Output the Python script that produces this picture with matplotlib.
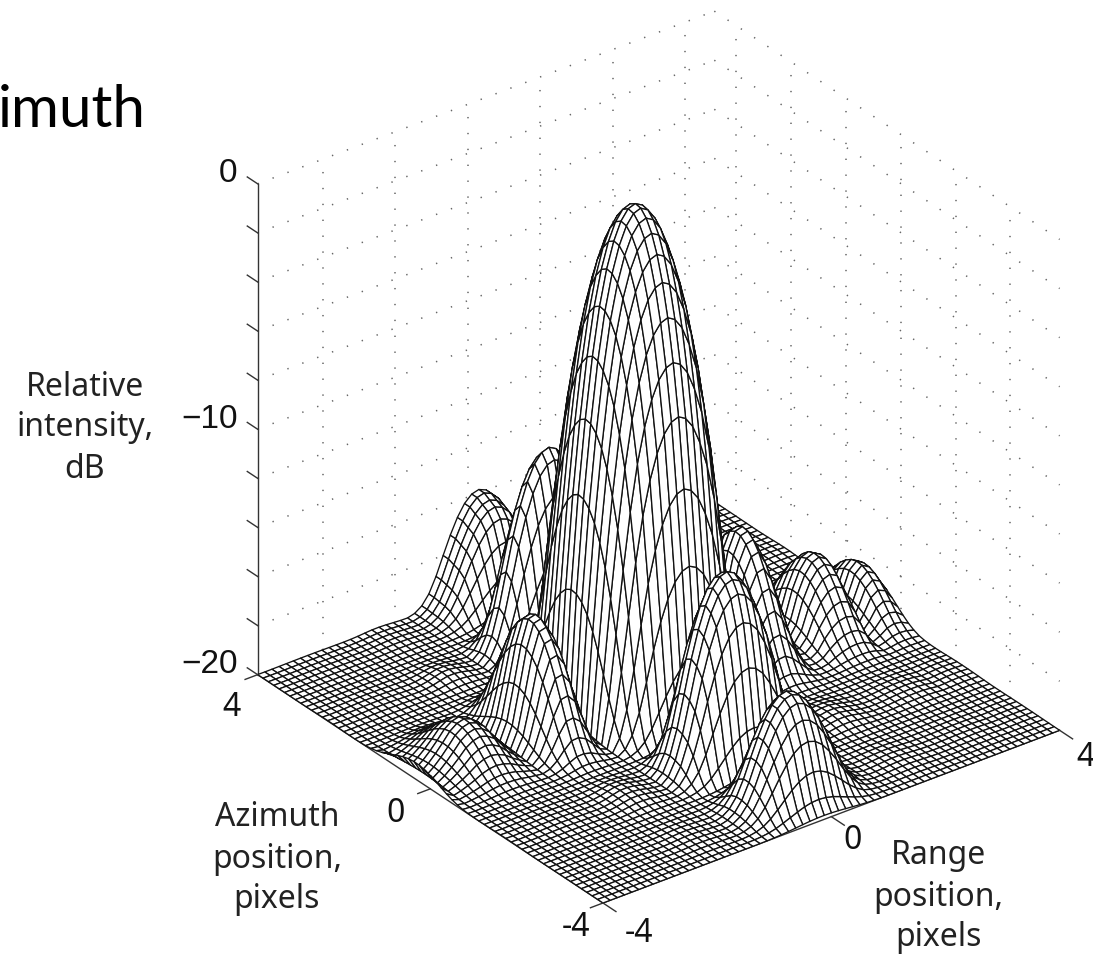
import numpy as np
import matplotlib
matplotlib.use("Agg")
import matplotlib.pyplot as plt
from mpl_toolkits.mplot3d import proj3d

# Cross-section of the response along range (dB)
range_db = [-25, -30, -27, -25, -23.5, -22.3, -21.7, -21.5, -21.8, -22.5, -24, -26, -30,
            -24, -20, -17.5, -16.2, -16.1, -16.8, -18.7, -22.5, -28,
            -15.5, -11.2, -8.1, -5.6, -3.65, -2.23, -1.2, -0.5, -0.11, 0, -0.18,
            -0.63, -1.42, -2.5, -4.05, -6.1, -8.9, -12.2, -16.5, -26,
            -22, -18.5, -16.6, -15.7, -15.6, -16.4, -18, -20.8, -26,
            -27, -24, -21, -19.6, -18.9, -18.7, -19, -20.5, -27,
            -23.5, -21.2, -20.6, -21, -22.5]
# Cross-section of the response along azimuth (dB)
azimuth_db = [-30, -25, -21.5, -19.2, -18, -17.2, -16.9, -16.9, -17.4, -18.8, -21, -25, -28,
              -21, -17, -14.8, -13.6, -13.1, -12.9, -13.1, -13.9, -15.6, -18.6, -25,
              -18.5, -13.8, -10.5, -7.6, -5.5, -3.8, -2.5, -1.5, -0.78, -0.31, -0.05, 0,
              -0.17, -0.56, -1.16, -2.05, -3.2, -4.68, -6.6, -9.15, -12.6, -16, -26,
              -22, -16.9, -14.4, -13, -12.6, -13, -14.2, -16.6, -20, -28, -26,
              -21.5, -19.2, -17.9, -17.4, -17.2, -17, -17]
floor_db = -20

grid_ticks = [-2.86, -1.59, -0.32, 0.95, 2.22, 3.49]
z_ticks = [-20, -18, -16, -14, -12, -10, -8, -6, -4, -2, 0]
xy_ticks = [-4, 0, 4]
z_labels = {0: "0", -10: "\u221210", -20: "\u221220"}

W, H = 1093, 958
fig = plt.figure(figsize=(W / 100, H / 100), dpi=100, facecolor="white")
ax = fig.add_axes([0, 0, 1, 1], projection="3d", proj_type="ortho", elev=30, azim=-127.1)
ax.set_box_aspect((1, 1, 0.99))
ax.computed_zorder = False
ax.set_axis_off()
ax.set_xlim(-4, 4)
ax.set_ylim(-4, 4)
ax.set_zlim(-20, 0)


def to_px(x, y, z):
    X, Y, _ = proj3d.proj_transform(x, y, z, ax.get_proj())
    px, py = ax.transData.transform((X, Y))
    return px, H - py


# Fit the cube to the reference's corners
size = 900.0
left, bottom = 100.0, 0.0
for _ in range(3):
    ax.set_position([left / W, bottom / H, size / W, size / H])
    ax.apply_aspect()
    lx, _ly = to_px(-4, 4, -20)
    rx, _ry = to_px(4, -4, -20)
    size *= 802.0 / (rx - lx)
    ax.set_position([left / W, bottom / H, size / W, size / H])
    ax.apply_aspect()
    fx, fy = to_px(-4, -4, -20)
    left += 603 - fx
    bottom += fy - 903
ax.set_position([left / W, bottom / H, size / W, size / H])
ax.apply_aspect()

# Surface
x = np.linspace(-4, 4, len(range_db))
y = np.linspace(-4, 4, len(azimuth_db))
X, Y = np.meshgrid(x, y)
Z = np.add.outer(np.array(azimuth_db), np.array(range_db))
k = 0.3
Z = np.logaddexp(Z * k, floor_db * k) / k
Z = np.clip(Z, floor_db, 0)
ax.plot_surface(X, Y, Z, rstride=1, cstride=1, color="white", edgecolor="#111111",
                linewidth=0.95, shade=False, antialiased=True, zorder=3)

# Dotted wall grid
dots = dict(color="#666666", lw=1.1, ls=(0, (0.9, 9.5)), zorder=1)
for t in grid_ticks:
    ax.plot([t, t], [4, 4], [-20, 0], **dots)
    ax.plot([4, 4], [t, t], [-20, 0], **dots)
for z in z_ticks[1:]:
    ax.plot([-4, 4], [4, 4], [z, z], **dots)
    ax.plot([4, 4], [4, -4], [z, z], **dots)

# Axes lines and ticks
axis = dict(color="#333333", lw=1.0, zorder=2)
ax.plot([-4, -4], [4, 4], [-20, 0], **axis)
ax.plot([-4, 4], [-4, -4], [-20, -20], **axis)
ax.plot([-4, -4], [-4, 4], [-20, -20], **axis)
top = dict(color="#333333", lw=1.0, zorder=4)
for z in z_ticks:
    ax.plot([-4, -4], [4, 4.24], [z, z], **top)
for t in xy_ticks:
    ax.plot([t, t], [-4, -4.3], [-20, -20], **top)
    ax.plot([-4, -4.22], [t, t], [-20, -20], **top)

fig.canvas.draw()


def px_text(px, py, s, **kw):
    fig.text(px / W, 1 - py / H, s, **kw)


tick_font = dict(family="Liberation Sans", fontsize=24, color="#111111", ha="center", va="center")
for z, s in z_labels.items():
    px, py = to_px(-4, 4, z)
    fig.text((px - 20) / W, 1 - (py - 10) / H, s, **{**tick_font, "ha": "right"})
label_font = dict(family="Noto Sans", fontsize=23, color="#222222", ha="center", va="center",
                  linespacing=1.32)
for t, s, dx, dy in zip(xy_ticks, ["-4", "0", "4"], [-27, -35, -26], [24, 25, 33]):
    px, py = to_px(-4, t, -20)
    px_text(px + dx, py + dy, s, **{**tick_font, "fontsize": 23, "family": "Noto Sans"})
for t, s, dx, dy in zip(xy_ticks, ["-4", "0", "4"], [36, 21, 26], [30, 24, 27]):
    px, py = to_px(t, -4, -20)
    px_text(px + dx, py + dy, s, **{**tick_font, "fontsize": 23, "family": "Noto Sans"})

px_text(85, 428, "Relative\nintensity,\ndB", **label_font)
px_text(277, 859, "Azimuth\nposition,\npixels", **label_font)
px_text(938, 897, "Range\nposition,\npixels", **label_font)
fig.text(146 / W, 1 - 127 / H, "imuth", family="Lato", fontsize=42, color="black",
         ha="right", va="baseline")

fig.savefig("out.png", dpi=100, facecolor="white")
